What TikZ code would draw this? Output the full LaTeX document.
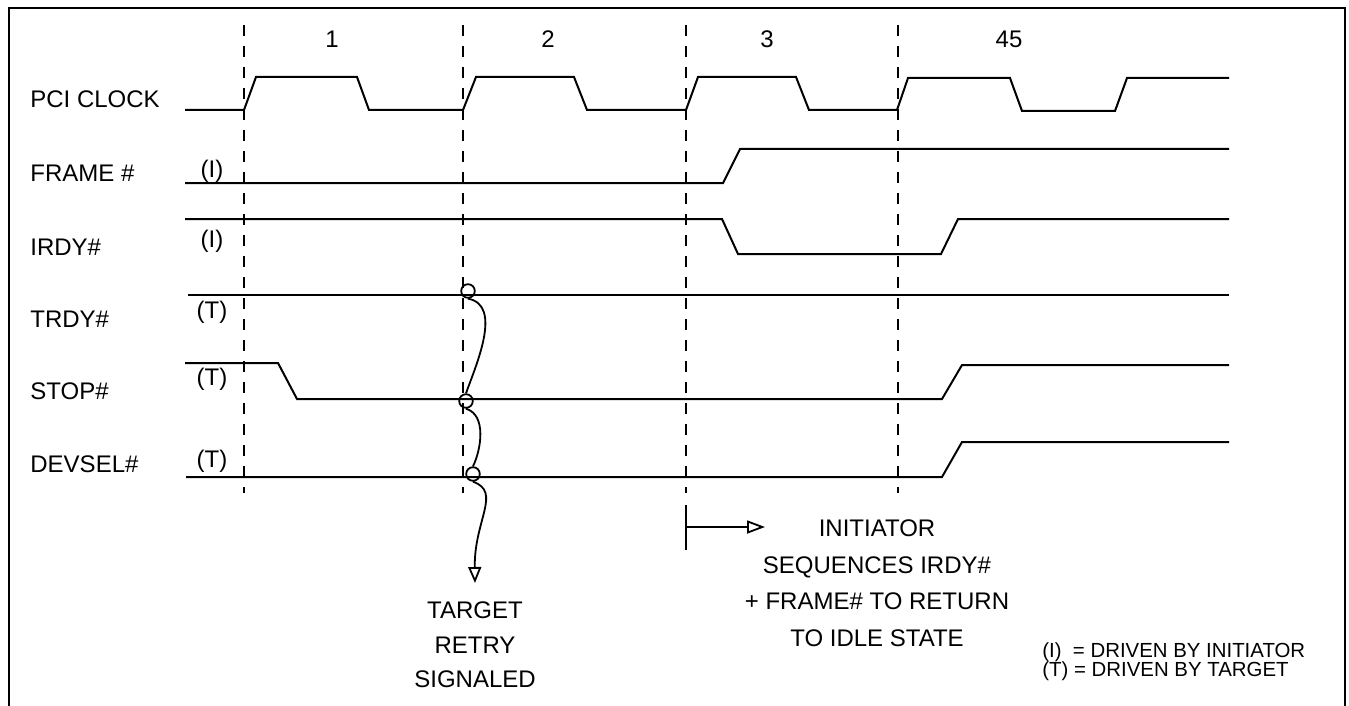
\documentclass[tikz,border=0pt]{standalone}
\usepackage{fontspec}
\setmainfont{Liberation Sans}
\usetikzlibrary{arrows.meta}
\begin{document}
\begin{tikzpicture}[x=0.5pt,y=-0.5pt,
  sig/.style={line width=1pt,line join=miter},
  frame/.style={line width=1.3pt},
  cyc/.style={line width=1pt,dash pattern=on 5.5pt off 5pt},
  lbl/.style={anchor=base west,inner sep=0pt,font=\fontsize{12}{14}\selectfont},
  drv/.style={anchor=base,inner sep=0pt,font=\fontsize{12}{14}\selectfont},
  note/.style={anchor=base,inner sep=0pt,font=\fontsize{12}{14}\selectfont},
  legend/.style={anchor=base west,inner sep=0pt,font=\fontsize{10.2}{12}\selectfont},
  ring/.style={circle,draw,line width=0.9pt,minimum size=6.8pt,inner sep=0pt},
  wire/.style={line width=0.9pt},
  opentip/.style={-{Triangle[open,length=8pt,width=6.5pt,line width=0.9pt]}}
]
\useasboundingbox (0,0) rectangle (1349,706);
% border
\draw[frame] (9,706) -- (9,8) -- (1345,8) -- (1345,706);
% cycle markers
\foreach \xx in {244,463,686,898} \draw[cyc] (\xx,25) -- (\xx,493);
\node[note] (n1) at (332,48) {1};
\node[note] (n2) at (548,48) {2};
\node[note] (n3) at (767,48) {3};
\node[note] (n45) at (1009,48) {45};
% signal names
\node[lbl] (lclk) at (30,108) {PCI CLOCK};
\node[lbl] (lframe) at (30,182) {FRAME \#};
\node[lbl] (lirdy) at (30,255) {IRDY\#};
\node[lbl] (ltrdy) at (30,327) {TRDY\#};
\node[lbl] (lstop) at (30,399) {STOP\#};
\node[lbl] (ldevsel) at (30,472) {DEVSEL\#};
% drivers
\node[drv] (dframe) at (212,177) {(I)};
\node[drv] (dirdy) at (212,247) {(I)};
\node[drv] (dtrdy) at (212,318) {(T)};
\node[drv] (dstop) at (212,385) {(T)};
\node[drv] (ddevsel) at (212,467) {(T)};
% waveforms
\draw[sig] (185,110) -- (244,110) -- (256,77) -- (357,77) -- (369,110) -- (463,110) -- (476,77) -- (574,77) -- (587,110)
  -- (686,110) -- (698,77) -- (796,77) -- (809,110) -- (897,110) -- (908,78) -- (1010,78) -- (1022,111) -- (1115,111) -- (1127,78) -- (1229,78);
\draw[sig] (185,183) -- (723,183) -- (740,149) -- (1229,149);
\draw[sig] (185,219) -- (722,219) -- (738,254) -- (941,254) -- (958,219) -- (1229,219);
\draw[sig] (188,295) -- (1229,295);
\draw[sig] (185,363) -- (278,363) -- (297,399) -- (942,399) -- (962,365) -- (1229,365);
\draw[sig] (186,477) -- (942,477) -- (962,442) -- (1229,442);
% target retry signalling
\node[ring] (c1) at (468,291) {};
\node[ring] (c2) at (466,401) {};
\node[ring] (c3) at (473,474) {};
\coordinate (tip) at (475,583);
\draw[wire] (c1.south) .. controls (503,305) and (476,365) .. (c2.north);
\draw[wire] (c2.south) .. controls (487,415) and (481,450) .. (c3.north);
\draw[wire,opentip] (c3.south) .. controls (502,492) and (474,520) .. (tip);
\node[note] (t1) at (475,618) {TARGET};
\node[note] (t2) at (475,653) {RETRY};
\node[note] (t3) at (475,687) {SIGNALED};
% initiator
\coordinate (ia) at (686,527);
\coordinate (ib) at (765,527);
\draw[wire] (686,505) -- (686,550);
\draw[wire,-{Triangle[open,length=9pt,width=6.5pt,line width=0.9pt]}] (ia) -- (ib);
\node[note] (i1) at (877,536) {INITIATOR};
\node[note] (i2) at (877,573) {SEQUENCES IRDY\#};
\node[note] (i3) at (877,609) {+ FRAME\# TO RETURN};
\node[note] (i4) at (877,646) {TO IDLE STATE};
% legend
\node[legend] (lg1) at (1042,657) {(I)\ \ = DRIVEN BY INITIATOR};
\node[legend] (lg2) at (1042,676) {(T) = DRIVEN BY TARGET};
\end{tikzpicture}
\end{document}
